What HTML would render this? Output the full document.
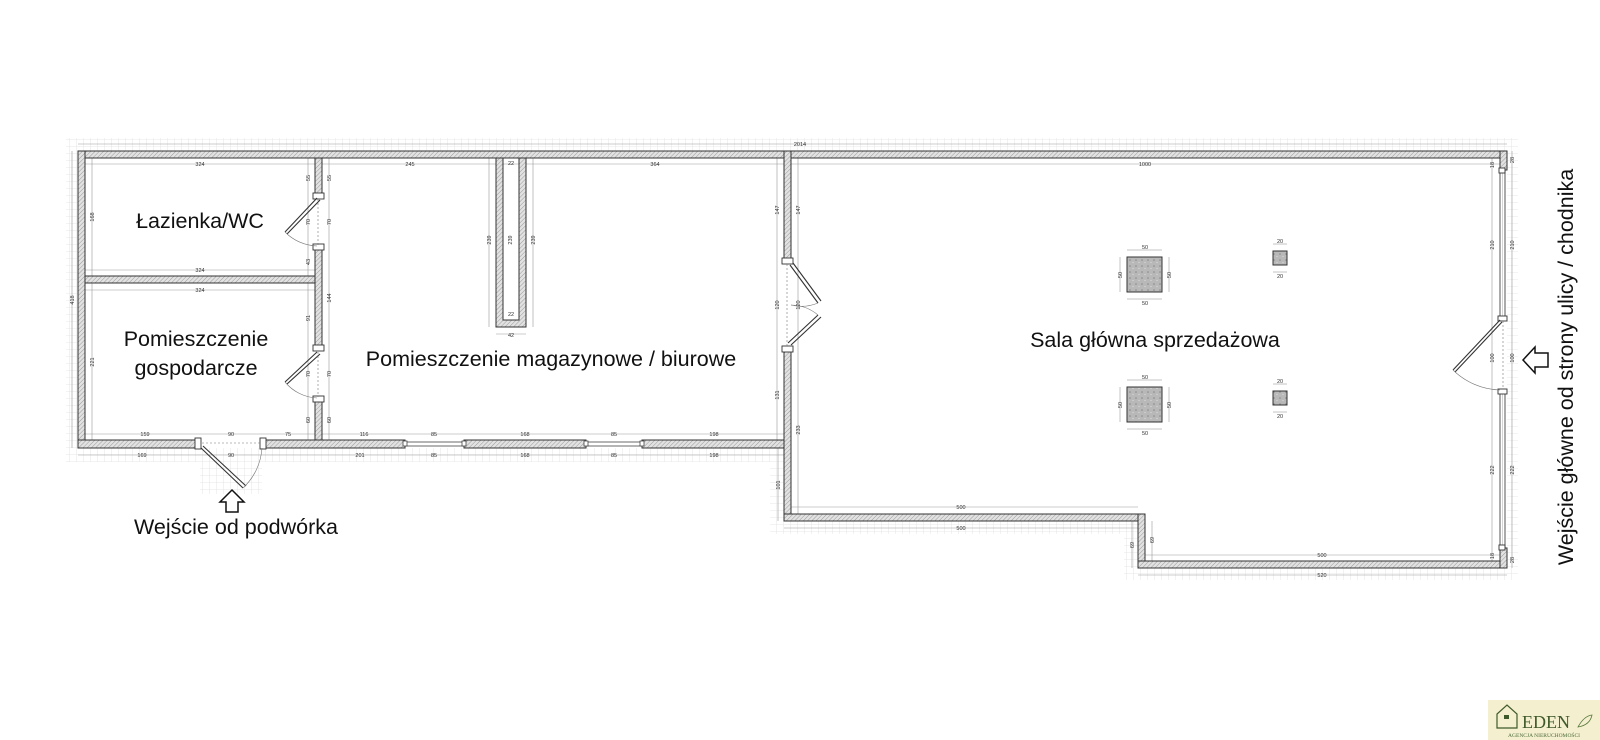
<!DOCTYPE html>
<html><head><meta charset="utf-8"><style>
html,body{margin:0;padding:0;background:#fff;}
svg{display:block;}
.t{font-family:"Liberation Sans","DejaVu Sans",sans-serif;fill:#111;}
.d{font-family:"Liberation Sans",sans-serif;font-size:5.5px;fill:#333;}
</style></head><body>
<svg width="1600" height="740" viewBox="0 0 1600 740" xmlns="http://www.w3.org/2000/svg">
<defs>
<pattern id="h" width="3" height="3" patternUnits="userSpaceOnUse" patternTransform="rotate(45)">
<rect width="3" height="3" fill="#e2e2e2"/><line x1="0" y1="0" x2="0" y2="3" stroke="#9a9a9a" stroke-width="1"/>
</pattern>
<pattern id="g" width="7" height="7" patternUnits="userSpaceOnUse">
<rect width="7" height="7" fill="#fff"/><path d="M7 0V7M0 7H7" stroke="#ddd" stroke-width="0.8"/>
</pattern>
<pattern id="c" width="6" height="6" patternUnits="userSpaceOnUse">
<rect width="6" height="6" fill="#b8b8b8"/><circle cx="2" cy="2" r="0.8" fill="#888"/><circle cx="5" cy="4.5" r="0.6" fill="#ddd"/>
</pattern>
</defs>

<!-- grid bands -->
<g fill="url(#g)" opacity="0.9">
<rect x="66" y="138" width="1452" height="13"/>
<rect x="66" y="138" width="12" height="324"/>
<rect x="66" y="448" width="718" height="14"/>
<rect x="784" y="521" width="354" height="13"/>
<rect x="1138" y="568" width="380" height="12"/>
<rect x="1507" y="138" width="11" height="442"/>
<rect x="200" y="448" width="62" height="46"/>
<rect x="770" y="448" width="14" height="86"/>
<rect x="1124" y="521" width="14" height="59"/>
</g>

<!-- dimension lines -->
<g stroke="#999" stroke-width="0.6" fill="none">
<line x1="85" y1="164" x2="315" y2="164"/><line x1="85" y1="270" x2="315" y2="270"/>
<line x1="85" y1="290" x2="315" y2="290"/><line x1="85" y1="434" x2="315" y2="434"/>
<line x1="92" y1="158" x2="92" y2="276"/><line x1="92" y1="283" x2="92" y2="440"/>
<line x1="308" y1="158" x2="308" y2="440"/><line x1="329" y1="158" x2="329" y2="440"/>
<line x1="322" y1="164" x2="784" y2="164"/><line x1="322" y1="434" x2="784" y2="434"/>
<line x1="777" y1="158" x2="777" y2="440"/><line x1="798" y1="158" x2="798" y2="514"/>
<line x1="791" y1="164" x2="1500" y2="164"/><line x1="791" y1="507" x2="1138" y2="507"/>
<line x1="1145" y1="555" x2="1500" y2="555"/><line x1="1152" y1="521" x2="1152" y2="561"/>
<line x1="1492" y1="158" x2="1492" y2="561"/><line x1="1512" y1="151" x2="1512" y2="568"/>
<line x1="78" y1="144" x2="1507" y2="144"/><line x1="72" y1="151" x2="72" y2="448"/>
<line x1="78" y1="455" x2="784" y2="455"/><line x1="784" y1="528" x2="1138" y2="528"/>
<line x1="1138" y1="575" x2="1507" y2="575"/><line x1="778" y1="448" x2="778" y2="521"/>
<line x1="1132" y1="521" x2="1132" y2="568"/>
<line x1="489" y1="158" x2="489" y2="327"/><line x1="533" y1="158" x2="533" y2="327"/>
<line x1="496" y1="334" x2="526" y2="334"/>
</g>

<!-- walls -->
<g fill="url(#h)" stroke="#333" stroke-width="1">
<rect x="78" y="151" width="1429" height="7"/>
<rect x="78" y="151" width="7" height="297"/>
<rect x="78" y="440" width="122" height="8"/>
<rect x="262" y="440" width="143" height="8"/>
<rect x="464" y="440" width="122" height="8"/>
<rect x="642" y="440" width="149" height="8"/>
<rect x="85" y="276" width="230" height="7"/>
<rect x="315" y="158" width="7" height="39"/>
<rect x="315" y="246" width="7" height="103"/>
<rect x="315" y="398" width="7" height="42"/>
<rect x="784" y="151" width="7" height="111"/>
<rect x="784" y="348" width="7" height="173"/>
<rect x="784" y="514" width="361" height="7"/>
<rect x="1138" y="514" width="7" height="54"/>
<rect x="1138" y="561" width="369" height="7"/>
<rect x="1500" y="151" width="7" height="19"/>
<rect x="1500" y="548" width="7" height="20"/>
</g>
<!-- pillar U -->
<path d="M496 158V327H526V158H519V320H503V158Z" fill="url(#h)" stroke="#333" stroke-width="1"/>
<!-- glass right wall -->
<g stroke="#444" stroke-width="0.9" fill="none">
<line x1="1500" y1="170" x2="1500" y2="318"/><line x1="1505" y1="170" x2="1505" y2="318"/>
<line x1="1500" y1="392" x2="1500" y2="548"/><line x1="1505" y1="392" x2="1505" y2="548"/>
<line x1="1502.5" y1="170" x2="1502.5" y2="318" stroke="#aaa" stroke-width="0.5"/>
<line x1="1502.5" y1="392" x2="1502.5" y2="548" stroke="#aaa" stroke-width="0.5"/>
</g>
<!-- windows -->
<g stroke="#444" stroke-width="0.8" fill="#fff">
<rect x="405" y="442" width="59" height="4"/><rect x="586" y="442" width="56" height="4"/>
<rect x="403" y="441" width="4" height="5"/><rect x="462" y="441" width="4" height="5"/>
<rect x="584" y="441" width="4" height="5"/><rect x="640" y="441" width="4" height="5"/>
</g>
<!-- door jambs -->
<g fill="#fff" stroke="#333" stroke-width="0.9">
<rect x="313" y="193" width="11" height="6"/><rect x="313" y="244" width="11" height="6"/>
<rect x="313" y="345" width="11" height="6"/><rect x="313" y="396" width="11" height="6"/>
<rect x="195" y="438" width="6" height="11"/><rect x="260" y="438" width="6" height="11"/>
<rect x="782" y="258" width="11" height="6"/><rect x="782" y="346" width="11" height="6"/>
<rect x="1498" y="316" width="9" height="5"/><rect x="1498" y="389" width="9" height="5"/>
<rect x="1499" y="168" width="6" height="5"/><rect x="1499" y="545" width="6" height="5"/>
</g>
<!-- door leaves & swings -->
<g stroke="#333" stroke-width="1.1" fill="none">
<line x1="317" y1="198" x2="285" y2="232"/><line x1="320" y1="200" x2="287" y2="234"/>
<line x1="317" y1="352" x2="285" y2="382"/><line x1="320" y1="354" x2="287" y2="384"/>
<line x1="201" y1="448" x2="243" y2="488"/><line x1="203" y1="446" x2="246" y2="486"/>
<line x1="790" y1="265" x2="818" y2="303"/><line x1="793" y1="263" x2="821" y2="301"/>
<line x1="788" y1="343" x2="818" y2="315"/><line x1="791" y1="345" x2="821" y2="317"/>
<line x1="1500" y1="320" x2="1453" y2="370"/><line x1="1502" y1="322" x2="1455" y2="372"/>
</g>
<g stroke="#777" stroke-width="0.6" fill="none">
<path d="M285 232 A47 47 0 0 0 317 246"/>
<path d="M285 382 A44 44 0 0 0 317 398"/>
<path d="M243 488 A60 60 0 0 0 262 448"/>
<path d="M818 303 A43 43 0 0 1 791 305"/><path d="M818 315 A43 43 0 0 0 791 305"/>
<path d="M1453 370 A70 70 0 0 0 1500 390"/>
<line x1="318" y1="199" x2="318" y2="245" stroke-dasharray="2 2"/>
<line x1="318" y1="352" x2="318" y2="397" stroke-dasharray="2 2"/>
<line x1="202" y1="443" x2="260" y2="443" stroke-dasharray="2 2"/>
<line x1="787" y1="264" x2="787" y2="346" stroke-dasharray="2 2"/>
<line x1="1503" y1="321" x2="1503" y2="389" stroke-dasharray="2 2"/>
</g>

<!-- columns -->
<g stroke="#333" stroke-width="1" fill="url(#c)">
<rect x="1127" y="257" width="35" height="35"/><rect x="1127" y="387" width="35" height="35"/>
<rect x="1273" y="251" width="14" height="14"/><rect x="1273" y="391" width="14" height="14"/>
</g>
<g stroke="#888" stroke-width="0.5">
<line x1="1127" y1="250" x2="1162" y2="250"/><line x1="1127" y1="299" x2="1162" y2="299"/>
<line x1="1120" y1="257" x2="1120" y2="292"/><line x1="1169" y1="257" x2="1169" y2="292"/>
<line x1="1127" y1="380" x2="1162" y2="380"/><line x1="1127" y1="429" x2="1162" y2="429"/>
<line x1="1120" y1="387" x2="1120" y2="422"/><line x1="1169" y1="387" x2="1169" y2="422"/>
<line x1="1273" y1="244" x2="1287" y2="244"/><line x1="1273" y1="272" x2="1287" y2="272"/>
<line x1="1273" y1="384" x2="1287" y2="384"/><line x1="1273" y1="412" x2="1287" y2="412"/>
</g>

<!-- dimension numbers -->
<g class="d" text-anchor="middle">
<text x="200" y="166">324</text><text x="200" y="272">324</text><text x="200" y="292">324</text>
<text x="145" y="436">159</text><text x="231" y="436">90</text><text x="288" y="436">75</text>
<text x="142" y="457">169</text><text x="231" y="457">90</text><text x="360" y="457">201</text>
<text x="364" y="436">116</text><text x="434" y="436">85</text><text x="525" y="436">168</text>
<text x="614" y="436">85</text><text x="714" y="436">198</text>
<text x="434" y="457">85</text><text x="525" y="457">168</text><text x="614" y="457">85</text><text x="714" y="457">198</text>
<text x="410" y="166">245</text><text x="655" y="166">364</text><text x="1145" y="166">1000</text>
<text x="800" y="146">2014</text><text x="961" y="509">500</text><text x="961" y="530">500</text>
<text x="1322" y="557">500</text><text x="1322" y="577">520</text>
<text x="511" y="165">22</text><text x="511" y="316">22</text><text x="511" y="337">42</text>
<text x="1145" y="249">50</text><text x="1145" y="305">50</text><text x="1145" y="379">50</text><text x="1145" y="435">50</text>
<text x="1280" y="243">20</text><text x="1280" y="278">20</text><text x="1280" y="383">20</text><text x="1280" y="418">20</text>
</g>
<g class="d" text-anchor="middle">
<text transform="translate(94,217) rotate(-90)">168</text><text transform="translate(94,362) rotate(-90)">221</text>
<text transform="translate(74,300) rotate(-90)">418</text>
<text transform="translate(310,178) rotate(-90)">55</text><text transform="translate(331,178) rotate(-90)">55</text>
<text transform="translate(310,222) rotate(-90)">70</text><text transform="translate(331,222) rotate(-90)">70</text>
<text transform="translate(310,262) rotate(-90)">43</text><text transform="translate(331,298) rotate(-90)">144</text>
<text transform="translate(310,318) rotate(-90)">91</text>
<text transform="translate(310,374) rotate(-90)">70</text><text transform="translate(331,374) rotate(-90)">70</text>
<text transform="translate(310,420) rotate(-90)">60</text><text transform="translate(331,420) rotate(-90)">60</text>
<text transform="translate(491,240) rotate(-90)">239</text><text transform="translate(512,240) rotate(-90)">239</text><text transform="translate(535,240) rotate(-90)">239</text>
<text transform="translate(779,210) rotate(-90)">147</text><text transform="translate(800,210) rotate(-90)">147</text>
<text transform="translate(779,305) rotate(-90)">120</text><text transform="translate(800,305) rotate(-90)">120</text>
<text transform="translate(779,395) rotate(-90)">131</text><text transform="translate(800,430) rotate(-90)">233</text>
<text transform="translate(780,485) rotate(-90)">101</text>
<text transform="translate(1134,545) rotate(-90)">69</text><text transform="translate(1154,540) rotate(-90)">69</text>
<text transform="translate(1122,275) rotate(-90)">50</text><text transform="translate(1171,275) rotate(-90)">50</text>
<text transform="translate(1122,405) rotate(-90)">50</text><text transform="translate(1171,405) rotate(-90)">50</text>
<text transform="translate(1494,245) rotate(-90)">210</text><text transform="translate(1514,245) rotate(-90)">210</text>
<text transform="translate(1494,358) rotate(-90)">100</text><text transform="translate(1514,358) rotate(-90)">100</text>
<text transform="translate(1494,470) rotate(-90)">222</text><text transform="translate(1514,470) rotate(-90)">222</text>
<text transform="translate(1494,165) rotate(-90)">18</text><text transform="translate(1514,160) rotate(-90)">28</text>
<text transform="translate(1494,556) rotate(-90)">18</text><text transform="translate(1514,560) rotate(-90)">28</text>
</g>

<!-- room labels -->
<g class="t" font-size="21.5" text-anchor="middle">
<text x="200" y="228">Łazienka/WC</text>
<text x="196" y="346">Pomieszczenie</text>
<text x="196" y="375">gospodarcze</text>
<text x="551" y="366">Pomieszczenie magazynowe / biurowe</text>
<text x="1155" y="347">Sala główna sprzedażowa</text>
<text x="236" y="534">Wejście od podwórka</text>
<text transform="translate(1573,367) rotate(-90)">Wejście główne od strony ulicy / chodnika</text>
</g>

<!-- arrows -->
<path d="M232 490 L244 502 L238 502 L238 512 L226 512 L226 502 L220 502 Z" fill="#fff" stroke="#111" stroke-width="1.5"/>
<path d="M1523 360 L1535 347 L1535 353 L1548 353 L1548 367 L1535 367 L1535 373 Z" fill="#fff" stroke="#111" stroke-width="1.5"/>

<!-- logo -->
<rect x="1488" y="700" width="112" height="40" fill="#f4efcf"/>
<path d="M1497 728 V714 L1507 705 L1517 714 V728 Z" fill="none" stroke="#3f5a2a" stroke-width="1.2"/>
<rect x="1504" y="715" width="5" height="4" fill="#3f5a2a"/>
<text x="1522" y="728" font-family="Liberation Serif,serif" font-size="18" fill="#3f5a2a">EDEN</text>
<path d="M1578 727 Q1584 716 1592 715 Q1590 725 1578 727Z" fill="none" stroke="#5a7a3a" stroke-width="0.8"/>
<text x="1544" y="737" font-family="Liberation Serif,serif" font-size="5.5" fill="#4a6a3a" text-anchor="middle">AGENCJA NIERUCHOMOŚCI</text>
</svg>
</body></html>
